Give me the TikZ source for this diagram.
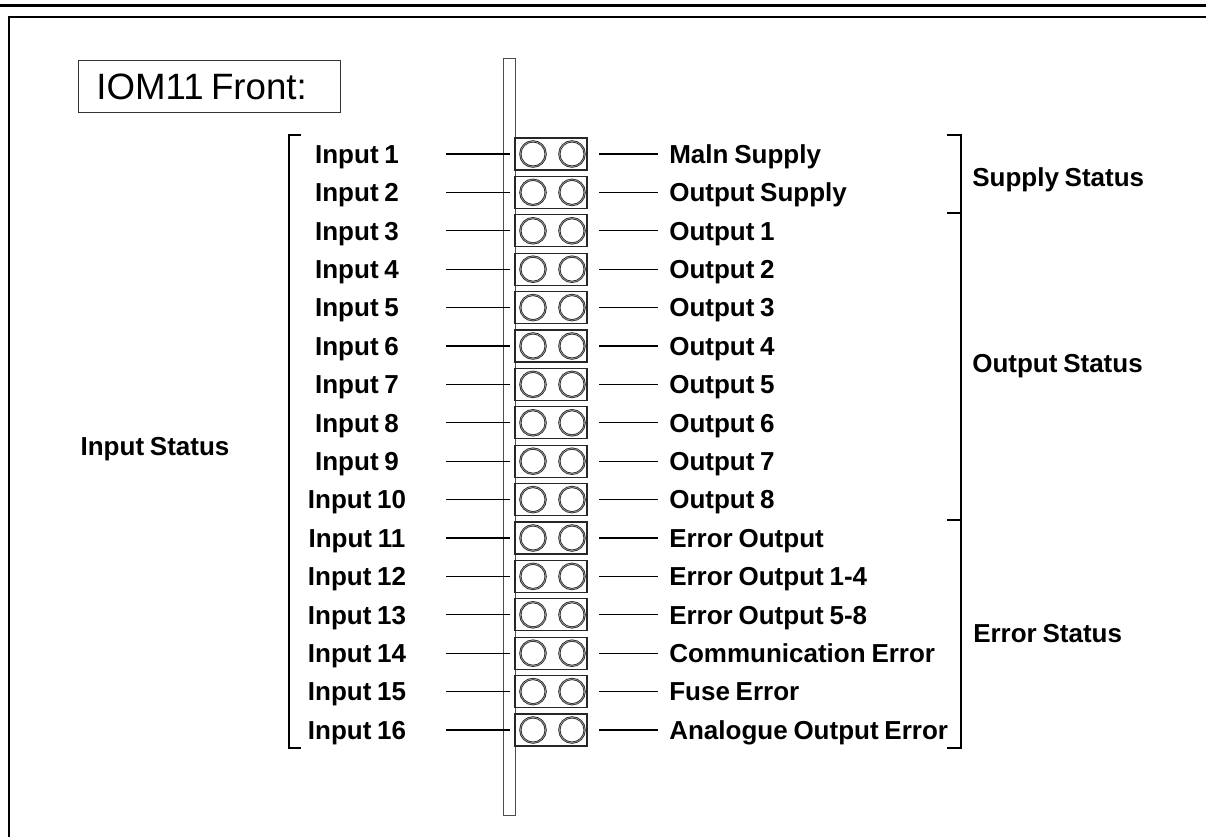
\documentclass[tikz,border=0pt]{standalone}
\usepackage{fontspec}
\setmainfont{Liberation Sans}[WordSpace=0.8]
\begin{document}
\begin{tikzpicture}[x=0.75pt,y=-0.75pt,
  lbl/.style={font=\bfseries\fontsize{19.5pt}{20pt}\selectfont, inner sep=0pt, text height=14pt, text depth=0pt},
  ledbox/.style={draw=black!85, line width=0.8pt, fill=white, minimum width=54pt, minimum height=24pt, inner sep=0pt},
  led/.style={circle, draw=black!85, double=black!35, double distance=0.45pt, line width=0.6pt, minimum size=19pt, inner sep=0pt},
  conn/.style={line width=0.9pt},
  brk/.style={line width=1.2pt}]
\useasboundingbox (0,0) rectangle (1206,836);
\draw[line width=1.9pt] (0,5.5) -- (1206,5.5);
\draw[line width=1.6pt] (9,845) -- (9,17) -- (1215,17);
\node[draw=black!80, line width=0.7pt, anchor=west, minimum height=39pt, inner xsep=13.5pt,
      text width=169.5pt, align=left, font=\fontsize{27.5pt}{28pt}\selectfont,
      text height=19.6pt, text depth=0pt] (title) at (78,86) {IOM11\hspace{0.2em}Front:};
\node[draw=black!70, line width=0.6pt, minimum width=9pt, minimum height=567.75pt, inner sep=0pt,
      anchor=north west] (bar) at (503,58) {};
\foreach \i/\inp/\outp in {1/Input 1/Maln Supply, 2/Input 2/Output Supply, 3/Input 3/Output 1,
  4/Input 4/Output 2, 5/Input 5/Output 3, 6/Input 6/Output 4, 7/Input 7/Output 5,
  8/Input 8/Output 6, 9/Input 9/Output 7, 10/Input 10/Output 8, 11/Input 11/Error Output,
  12/Input 12/Error Output 1-4, 13/Input 13/Error Output 5-8, 14/Input 14/Communication Error,
  15/Input 15/Fuse Error, 16/Input 16/Analogue Output Error}{
  \pgfmathsetmacro{\yy}{154+38.4*(\i-1)}
  \node[ledbox] (b\i) at (551,\yy) {};
  \node[led] (la\i) at (533,\yy) {};
  \node[led] (lb\i) at (572,\yy) {};
  \node[lbl] (in\i) at (357,\yy) {\inp};
  \node[lbl, anchor=west] (out\i) at (669,\yy) {\outp};
  \coordinate (ca\i) at (446,\yy);
  \coordinate (cb\i) at (510,\yy);
  \coordinate (cc\i) at (599,\yy);
  \draw[conn] (ca\i) -- (cb\i);
  \draw[conn] (cc\i) -- ([xshift=-8.25pt]out\i.west);
}
% brackets
\draw[brk] (301,135) -- (289,135) -- (289,748) -- (301,748);
\draw[brk] (947,135) -- (961,135) -- (961,748) -- (947,748);
\draw[brk] (947,213) -- (961,213);
\draw[brk] (947,520) -- (961,520);
\node[lbl] (gin) at (155,446) {Input Status};
\node[lbl, anchor=west] (gsup) at (972,177) {Supply Status};
\node[lbl, anchor=west] (gout) at (972,363) {Output Status};
\node[lbl, anchor=west] (gerr) at (973,633) {Error Status};
\end{tikzpicture}
\end{document}
